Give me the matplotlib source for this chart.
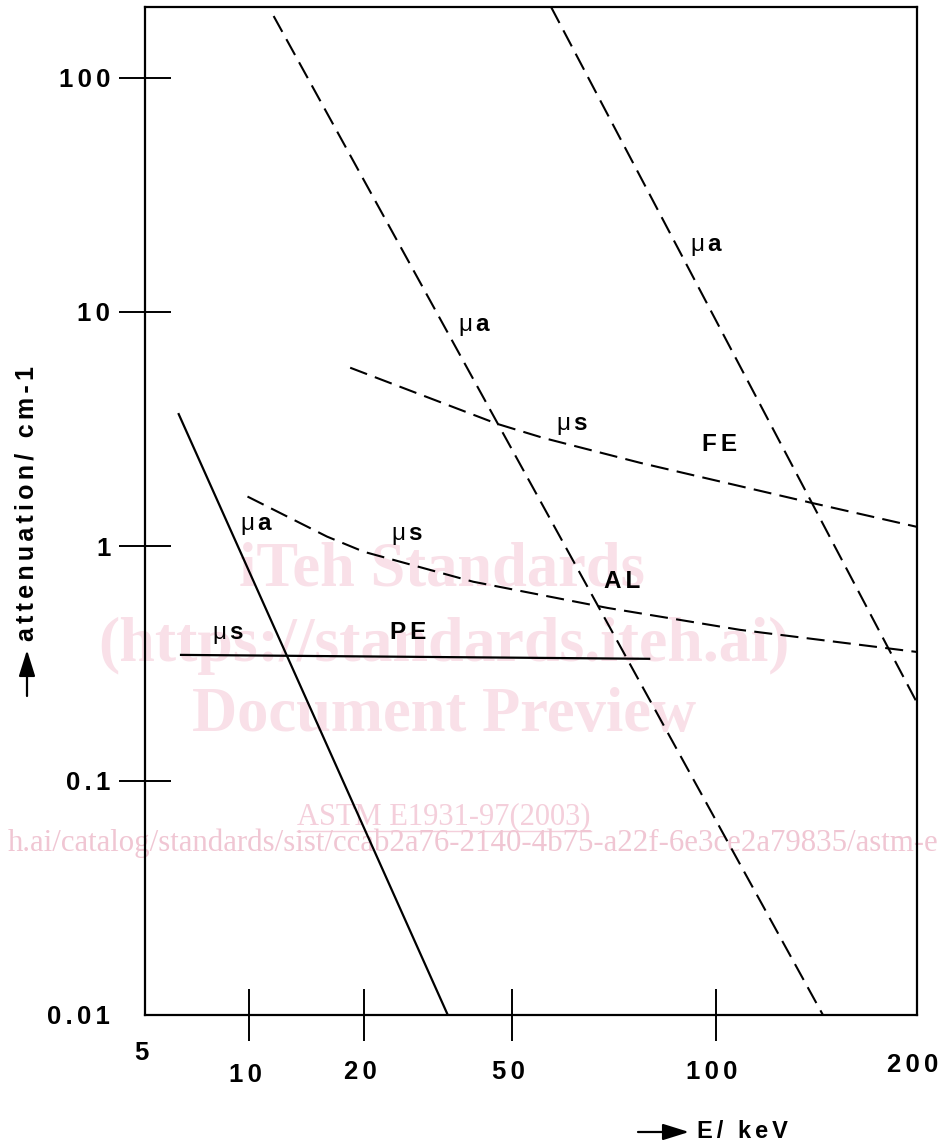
import numpy as np
import matplotlib
matplotlib.use("Agg")
import matplotlib.pyplot as plt
import matplotlib.transforms as mtransforms
from matplotlib.ticker import FixedLocator, NullLocator, NullFormatter
from matplotlib.lines import Line2D

plt.rcParams['font.family'] = ['Liberation Sans', 'DejaVu Sans']
plt.rcParams['mathtext.fontset'] = 'custom'
plt.rcParams['mathtext.rm'] = 'Liberation Sans'
plt.rcParams['mathtext.bf'] = 'Liberation Sans:bold'
plt.rcParams['lines.scale_dashes'] = False

# ---------------- data ----------------
energy_ticks = [5, 10, 20, 50, 100, 200]
energy_labels = ['5', '10', '20', '50', '100', '200']
atten_ticks = [0.01, 0.1, 1, 10, 100]
atten_labels = ['0.01', '0.1', '1', '10', '100']

# PE (solid)
pe_mua_E = [6.24, 33.6]
pe_mua = [3.70, 0.01]
pe_mus_E = [6.31, 80.0]
pe_mus = [0.344, 0.331]

# AL (dashed)
al_mua_E = [11.6, 144.6]
al_mua = [183, 0.01]
al_mus_E = [9.9, 16.0, 20.0, 39.3, 69.1, 108.6, 200]
al_mus = [1.63, 1.10, 0.947, 0.706, 0.546, 0.440, 0.354]

# FE (dashed)
fe_mua_E = [57.1, 200]
fe_mua = [200, 0.215]
fe_mus_E = [18.4, 45.6, 55.6, 77.3, 139.3, 200]
fe_mus = [5.78, 3.33, 2.90, 2.27, 1.53, 1.21]

# label annotations (text, E, attenuation)
label_text = [r'$\mathrm{μ}\,\mathbf{a}$', r'$\mathrm{μ}\,\mathbf{s}$', 'PE',
              r'$\mathrm{μ}\,\mathbf{s}$', r'$\mathrm{μ}\,\mathbf{a}$', 'AL',
              r'$\mathrm{μ}\,\mathbf{s}$', 'FE', r'$\mathrm{μ}\,\mathbf{a}$']
label_E = [10.5, 8.7, 26.3, 26.2, 39.8, 72.7, 61.3, 101.4, 97.0]
label_val = [1.22, 0.419, 0.427, 1.11, 8.65, 0.706, 3.27, 2.71, 19.0]

# drawn axis calibration (relative position of each energy tick along the axis)
axis_pos = [0, 104, 219, 367, 571, 772]

# ---------------- scale ----------------
lx = np.log10(energy_ticks)
ap = np.asarray(axis_pos, float)


def fwd(e):
    l = np.log10(np.clip(np.asarray(e, float), 1e-6, None))
    out = np.interp(l, lx, ap)
    s0 = (ap[1] - ap[0]) / (lx[1] - lx[0])
    s1 = (ap[-1] - ap[-2]) / (lx[-1] - lx[-2])
    out = np.where(l < lx[0], ap[0] + (l - lx[0]) * s0, out)
    out = np.where(l > lx[-1], ap[-1] + (l - lx[-1]) * s1, out)
    return out


def inv(p):
    p = np.asarray(p, float)
    out = np.interp(p, ap, lx)
    s0 = (lx[1] - lx[0]) / (ap[1] - ap[0])
    s1 = (lx[-1] - lx[-2]) / (ap[-1] - ap[-2])
    out = np.where(p < ap[0], lx[0] + (p - ap[0]) * s0, out)
    out = np.where(p > ap[-1], lx[-1] + (p - ap[-1]) * s1, out)
    return 10 ** out


def spaced(s):
    return '\u200a\u200a'.join(s)


W, H = 946, 1147
fig = plt.figure(figsize=(W / 100, H / 100), dpi=100)
fig.patch.set_facecolor('white')


def fx(x):
    return x / W


def fy(y):
    return 1 - y / H


ax = fig.add_axes([fx(145), fy(1015), (917 - 145) / W, (1015 - 7) / H])
ax.patch.set_visible(False)
ax.set_xscale('function', functions=(fwd, inv))
ax.set_yscale('log')
ax.set_xlim(5, 200)
ax.set_ylim(0.01, 200)

for s in ax.spines.values():
    s.set_linewidth(1.6)

# x ticks: marks only
ax.xaxis.set_major_locator(FixedLocator(energy_ticks[1:-1]))
ax.xaxis.set_major_formatter(NullFormatter())
ax.xaxis.set_minor_locator(NullLocator())
ax.tick_params(axis='x', which='major', direction='inout', length=37, width=1.4)

# y ticks: labels on major (no mark), marks on minor
ax.yaxis.remove_overlapping_locs = False
ax.yaxis.set_major_locator(FixedLocator(atten_ticks))
ax.set_yticklabels([spaced(t) for t in atten_labels])
ax.tick_params(axis='y', which='major', length=0, pad=25, labelsize=18.5)
for t in ax.get_yticklabels():
    t.set_fontweight('bold')
ax.yaxis.set_minor_locator(FixedLocator(atten_ticks[1:]))
ax.yaxis.set_minor_formatter(NullFormatter())
ax.tick_params(axis='y', which='minor', direction='inout', length=38, width=1.4)

# lines
ax.plot(pe_mua_E, pe_mua, color='black', lw=1.6, solid_capstyle='butt')
ax.plot(pe_mus_E, pe_mus, color='black', lw=1.6, solid_capstyle='butt')
dash = (0, (13, 6))
ax.plot(al_mua_E, al_mua, color='black', lw=1.5, linestyle=dash)
ax.plot(al_mus_E, al_mus, color='black', lw=1.5, linestyle=dash)
ax.plot(fe_mua_E, fe_mua, color='black', lw=1.5, linestyle=dash)
ax.plot(fe_mus_E, fe_mus, color='black', lw=1.5, linestyle=dash)

for t, e, v in zip(label_text, label_E, label_val):
    if t.startswith('$'):
        ax.text(e, v, t, fontsize=17.5, ha='center', va='center')
    else:
        ax.text(e, v, spaced(t), fontsize=17.5, fontweight='bold',
                ha='center', va='center')

# x tick labels, staggered
xlab_y = [1053, 1075, 1072, 1072, 1072, 1065]
trans = mtransforms.blended_transform_factory(ax.transData, fig.transFigure)
trans = mtransforms.offset_copy(trans, fig=fig, x=-4, y=0, units='dots')
for e, lab, yy in zip(energy_ticks, energy_labels, xlab_y):
    ax.text(e, fy(yy), spaced(lab), transform=trans, fontsize=18.5,
            fontweight='bold', ha='center', va='center', clip_on=False)

# axis titles
arrow_kw = dict(arrowstyle='-|>,head_length=0.8,head_width=0.25', color='black',
                lw=1.6, shrinkA=0, shrinkB=0, mutation_scale=20)
fig.text(fx(27), fy(641), spaced('attenuation/ cm-1'), rotation=90,
         ha='center', va='bottom', fontsize=18, fontweight='bold')
ax.annotate('', xy=(27, H - 650), xytext=(27, H - 696), xycoords='figure pixels',
            textcoords='figure pixels', arrowprops=arrow_kw, annotation_clip=False)
ax.annotate('', xy=(689, H - 1132), xytext=(638, H - 1132), xycoords='figure pixels',
            textcoords='figure pixels', arrowprops=arrow_kw, annotation_clip=False)
fig.text(fx(697), fy(1131), spaced('E/ keV'), ha='left', va='center',
         fontsize=17, fontweight='bold')

# watermark
pink = '#f9e0e8'
serif = ['Liberation Serif', 'DejaVu Serif']
fig.text(fx(442), fy(570), 'iTeh Standards', family=serif, fontweight='bold',
         fontsize=45, color=pink, ha='center', va='center', zorder=-1)
fig.text(fx(444), fy(646), '(https://standards.iteh.ai)', family=serif,
         fontweight='bold', fontsize=46, color=pink, ha='center', va='center', zorder=-1)
fig.text(fx(444), fy(716), 'Document Preview', family=serif, fontweight='bold',
         fontsize=45, color=pink, ha='center', va='center', zorder=-1)
astm = fig.text(fx(444), fy(817), 'ASTM E1931-97(2003)', family=serif, fontsize=22,
                color='#f4cfdb', ha='center', va='center', zorder=-1)
fig.text(fx(473), fy(843),
         'h.ai/catalog/standards/sist/ccab2a76-2140-4b75-a22f-6e3ce2a79835/astm-e',
         family=serif, fontsize=22.2, color='#f0c6d3', ha='center', va='center', zorder=-1)

fig.canvas.draw()
bb = astm.get_window_extent()
fig.add_artist(Line2D([bb.x0 / W, bb.x1 / W], [(bb.y0 + 1) / H] * 2,
                      transform=fig.transFigure, color='#f4cfdb', lw=1.0, zorder=-1))

fig.savefig('out.png', dpi=100, facecolor='white')
